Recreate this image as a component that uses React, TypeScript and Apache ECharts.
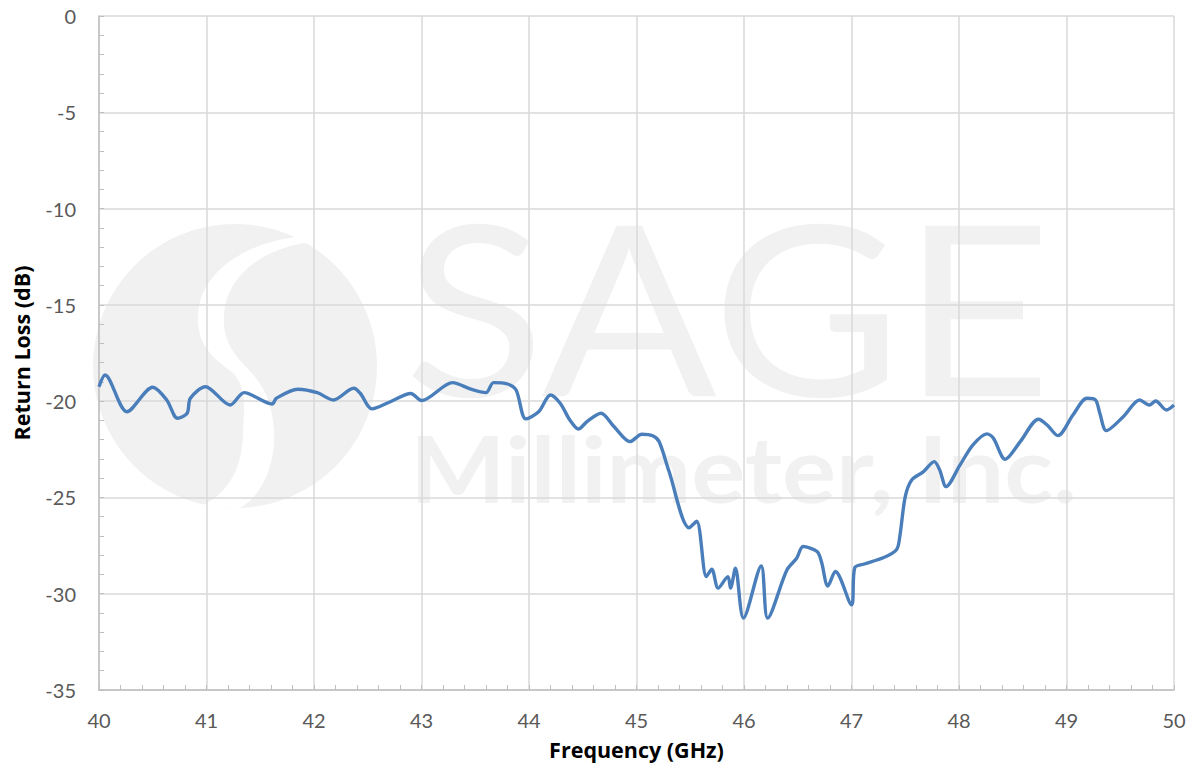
import React, { useEffect, useRef } from "react";
import * as echarts from "echarts";

const freqGHz = [
  40.0, 40.056, 40.26, 40.5, 40.63, 40.73, 40.82, 40.85, 40.99, 41.22, 41.35, 41.61, 41.65, 41.85,
  42.03, 42.18, 42.37, 42.43, 42.54, 42.71, 42.9, 43.0, 43.29, 43.46, 43.6, 43.67, 43.8, 43.88,
  43.97, 44.09, 44.2, 44.29, 44.38, 44.46, 44.54, 44.67, 44.79, 44.94, 45.05, 45.15, 45.21, 45.3,
  45.49, 45.56, 45.65, 45.7, 45.76, 45.85, 45.875, 45.92, 45.995, 46.16, 46.22, 46.4, 46.49, 46.55,
  46.68, 46.72, 46.78, 46.85, 47.0, 47.03, 47.11, 47.3, 47.42, 47.45, 47.5, 47.56, 47.67, 47.77,
  47.82, 47.88, 48.01, 48.13, 48.26, 48.32, 48.43, 48.57, 48.74, 48.82, 48.92, 49.06, 49.19, 49.27,
  49.31, 49.37, 49.53, 49.68, 49.77, 49.83, 49.93, 50.0,
];

const returnLossDb = [
  -19.25, -18.64, -20.55, -19.28, -19.94, -20.89, -20.63, -19.85, -19.25, -20.2, -19.56, -20.15, -19.85, -19.38,
  -19.56, -19.94, -19.33, -19.59, -20.4, -20.03, -19.6, -19.97, -19.04, -19.38, -19.56, -19.04, -19.11, -19.42,
  -20.92, -20.55, -19.68, -20.11, -20.98, -21.45, -21.06, -20.63, -21.32, -22.1, -21.72, -21.8, -22.1, -23.6,
  -26.58, -26.24, -29.11, -28.73, -29.71, -29.11, -29.71, -28.68, -31.27, -28.56, -31.27, -28.76, -28.16, -27.55,
  -27.81, -28.33, -29.6, -28.85, -30.58, -28.65, -28.47, -28.12, -27.7, -27.0, -24.96, -24.09, -23.66, -23.14,
  -23.57, -24.44, -23.31, -22.27, -21.7, -21.93, -23.02, -22.1, -20.94, -21.24, -21.79, -20.72, -19.85, -19.94,
  -20.63, -21.53, -20.8, -19.94, -20.2, -19.99, -20.46, -20.2,
];

const xTitle = "Frequency (GHz)";
const yTitle = "Return Loss (dB)";
const watermarkMain = "SAGE";
const watermarkSub = "Millimeter, Inc.";

const TICK_FONT = "Lato, 'Open Sans', sans-serif";
const TITLE_FONT = "'Open Sans', Lato, sans-serif";

const LOGO_BAND =
  "M 305 236 C 250 240 200 270 198 315 C 196 345 215 360 232 372 C 245 385 245 400 243 430 " +
  "C 243 460 235 490 200 507 L 240 508 C 264 495 276 460 274 430 C 272 400 262 384 249 370 " +
  "C 234 355 222 340 224 315 C 226 280 256 250 310 242 Z";

let registered = false;
function ensureShapes() {
  if (registered) return;
  echarts.graphic.registerShape("logoBand", echarts.graphic.extendPath(LOGO_BAND, {}));
  registered = true;
}

export default function App() {
  const ref = useRef<HTMLDivElement>(null);

  useEffect(() => {
    if (!ref.current) return;
    ensureShapes();
    const chart = echarts.init(ref.current, undefined, { renderer: "svg" });
    const wm = "#f1f1f1";
    const data = freqGHz.map((f, i) => [f, returnLossDb[i]]);
    chart.setOption({
      animation: false,
      backgroundColor: "#ffffff",
      graphic: {
        elements: [
          {
            type: "group",
            z: -10,
            silent: true,
            children: [
              { type: "circle", shape: { cx: 235, cy: 366, r: 142 }, style: { fill: wm }, z: -10 },
              { type: "logoBand", x: 0, y: 0, z: -9, style: { fill: "#ffffff" } },
              {
                type: "text",
                x: 404,
                y: 423,
                z: -8,
                scaleX: 1.09,
                style: {
                  text: watermarkMain,
                  fill: wm,
                  font: `normal 238px Lato, sans-serif`,
                  verticalAlign: "bottom",
                },
              },
              {
                type: "text",
                x: 410,
                y: 422,
                z: -8,
                scaleX: 1.1,
                style: {
                  text: watermarkSub,
                  fill: wm,
                  font: `bold 92px Lato, sans-serif`,
                  verticalAlign: "top",
                },
              },
            ],
          },
        ],
      },
      grid: { left: 99, right: 20, top: 16, bottom: 82, containLabel: false },
      xAxis: {
        type: "value",
        min: 40,
        max: 50,
        interval: 1,
        name: xTitle,
        nameLocation: "middle",
        nameGap: 48,
        nameTextStyle: { fontFamily: TITLE_FONT, fontWeight: "bold", fontSize: 21.5, color: "#000000" },
        axisLine: { show: true, onZero: false, lineStyle: { color: "#bfbfbf", width: 1.5 } },
        axisTick: { show: true, inside: true, length: 5, lineStyle: { color: "#bfbfbf" } },
        minorTick: { show: true, splitNumber: 5, length: 5, lineStyle: { color: "#bfbfbf" } },
        axisLabel: { fontFamily: TICK_FONT, fontSize: 20, color: "#595959", margin: 20 },
        splitLine: { show: true, lineStyle: { color: "#d9d9d9", width: 1.5 } },
      },
      yAxis: {
        type: "value",
        min: -35,
        max: 0,
        interval: 5,
        name: yTitle,
        nameLocation: "middle",
        nameGap: 67,
        nameRotate: 90,
        nameTextStyle: { fontFamily: TITLE_FONT, fontWeight: "bold", fontSize: 21.5, color: "#000000" },
        axisLine: { show: true, lineStyle: { color: "#bfbfbf", width: 1.5 } },
        axisTick: { show: true, inside: true, length: 5, lineStyle: { color: "#bfbfbf" } },
        minorTick: { show: true, splitNumber: 5, length: 5, lineStyle: { color: "#bfbfbf" } },
        axisLabel: { fontFamily: TICK_FONT, fontSize: 20, color: "#595959", margin: 23 },
        splitLine: { show: true, lineStyle: { color: "#d9d9d9", width: 1.5 } },
      },
      series: [
        {
          type: "line",
          data,
          smooth: 0.3,
          showSymbol: false,
          symbol: "none",
          lineStyle: { color: "#4a7ebb", width: 3.4 },
          z: 5,
        },
      ],
    });
    return () => chart.dispose();
  }, []);

  return (
    <div
      ref={ref}
      style={{ position: "fixed", left: 0, top: 0, width: 1194, height: 772, background: "#fff" }}
    />
  );
}
